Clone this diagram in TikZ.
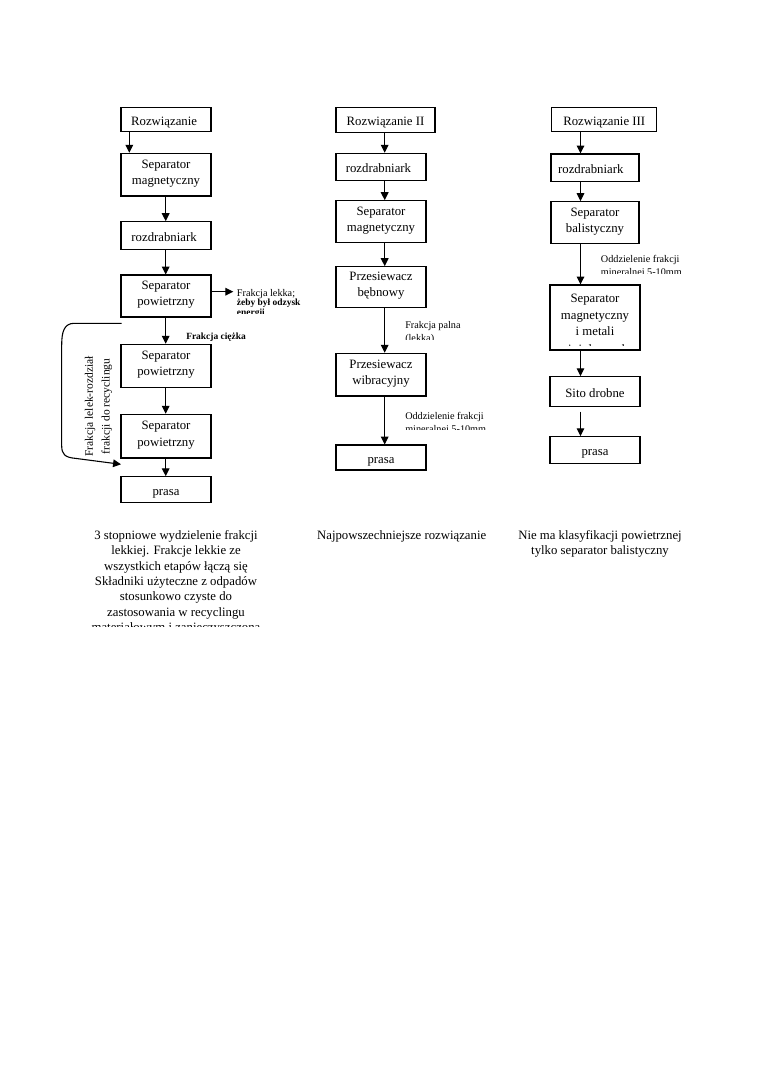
\documentclass[tikz,border=0pt]{standalone}
\usepackage{fontspec}
\setmainfont{Liberation Serif}
\usetikzlibrary{arrows.meta}
\begin{document}
\begin{tikzpicture}[x=0.7833pt,y=-0.7833pt,
  box/.style n args={2}{draw, line width=0.85pt, inner sep=0pt,
    minimum width=#1*0.7833pt, minimum height=#2*0.7833pt,
    align=center, font=\fontsize{10}{12.8}\selectfont,
    execute at begin node={\rule{0pt}{13.2pt}},
    execute at end node={\rule[-3.9pt]{0pt}{0pt}}},
  arr/.style={line width=0.85pt, -{Triangle[width=6pt,length=6.2pt]}},
  lab/.style={anchor=base west, inner sep=0pt, font=\fontsize{8}{9}\selectfont},
  labb/.style={anchor=base west, inner sep=0pt, font=\fontsize{7.4}{9}\selectfont\bfseries},
  notetext/.style={anchor=north, inner sep=0pt, align=center, font=\fontsize{10}{12}\selectfont}]
\fill[white] (0,0) rectangle (760,1075);
\useasboundingbox (0,0) rectangle (760,1075);

% column axes
\coordinate (cxLa) at (129.3,0);
\coordinate (cxL) at (165.7,0);
\coordinate (cxM) at (384.7,0);
\coordinate (cxR) at (580.5,0);

% ---------- left column ----------
\node[box={90}{24.4}] (L1) at (166,119.5) {Rozwiązanie\kern3pt};
\node[box={90}{42.7}] (L2) at (166,174.65) {Separator\\magnetyczny};
\node[box={90}{27.6}] (L3) at (166,235.5) {rozdrabniark\kern3pt};
\node[box={90}{42}] (L4) at (166,296) {Separator\\powietrzny};
\node[box={90}{43}] (L5) at (166,365.8) {Separator\\powietrzny};
\node[box={90}{43.7}] (L6) at (166,436.15) {Separator\\powietrzny};
\node[box={90}{25.6}] (L7) at (166,489.5) {prasa};

\draw[arr] (L1.south -| cxLa) -- (L2.north -| cxLa);
\draw[arr] (L2.south -| cxL) -- (L3.north -| cxL);
\draw[arr] (L3.south -| cxL) -- (L4.north -| cxL);
\draw[arr] (L4.south -| cxL) -- (L5.north -| cxL);
\draw[arr] (L5.south -| cxL) -- (L6.north -| cxL);
\draw[arr] (L6.south -| cxL) -- (L7.north -| cxL);

\coordinate (lekTip) at (233.3,291.7);
\draw[arr] (L4.east |- lekTip) -- (lekTip);
\begin{scope}
  \clip (200,250) rectangle (330,313.5);
  \node[lab] (lek1) at (236.7,296) {Frakcja lekka;};
  \node[labb] (lek2) at (236.7,305.5) {żeby był odzysk};
  \node[labb] (lek3) at (236.7,315.5) {energii};
\end{scope}
\node[labb] (ciez) at (186,339.5) {Frakcja ciężka};

\coordinate (fbS) at (121.7,323.3);
\coordinate (fbE) at (121,464.3);
\draw[arr] (fbS) -- (74,323.3) .. controls (64,323.5) and (61.7,332) .. (61.7,345)
  -- (61.7,446) .. controls (61.7,454) and (65,457.5) .. (75,458.3) -- (fbE);
\node[rotate=90, inner sep=0pt, align=center, font=\fontsize{9}{13}\selectfont] (fbl)
  at (98.5,406.5) {Frakcja lelek-rozdział\\frakcji do recyclingu};

% ---------- middle column ----------
\node[box={99}{25}] (M1) at (385.5,119.8) {Rozwiązanie II};
\node[box={90}{27.4}] (M2) at (381,167) {rozdrabniark\kern4pt};
\node[box={90}{42}] (M3) at (381,221.7) {Separator\\magnetyczny};
\node[box={90}{40.6}] (M4) at (381,287) {Przesiewacz\\bębnowy};
\node[box={90}{42.7}] (M5) at (381,374.65) {Przesiewacz\\wibracyjny};
\node[box={90}{25}] (M6) at (381,457.5) {prasa};

\draw[arr] (M1.south -| cxM) -- (M2.north -| cxM);
\draw[arr] (M2.south -| cxM) -- (M3.north -| cxM);
\draw[arr] (M3.south -| cxM) -- (M4.north -| cxM);
\draw[arr] (M4.south -| cxM) -- (M5.north -| cxM);
\draw[arr] (M5.south -| cxM) -- (M6.north -| cxM);

\begin{scope}
  \clip (395,310) rectangle (520,339);
  \node[lab] (pal1) at (405,328.3) {Frakcja palna};
  \node[lab] (pal2) at (405,341) {(lekka)};
\end{scope}
\begin{scope}
  \clip (395,400) rectangle (520,429.5);
  \node[lab] (odm1) at (405,419.3) {Oddzielenie frakcji};
  \node[lab] (odm2) at (405,432) {mineralnej 5-10mm};
\end{scope}

% ---------- right column ----------
\node[box={105}{24.4}] (R1) at (604.2,119.5) {Rozwiązanie III};
\node[box={88}{27.7}] (R2) at (595,167.85) {rozdrabniark\kern6.6pt};
\node[box={88}{41.6}] (R3) at (595,222.5) {Separator\\balistyczny};
\node[box={90}{65}] (R4) at (595,317.5) {Separator\\magnetyczny\\i metali};
\node[box={90}{30}] (R5) at (595,391.7) {Sito drobne};
\node[box={90}{26.6}] (R6) at (595,450) {prasa};

\draw[arr] (R1.south -| cxR) -- (R2.north -| cxR);
\draw[arr] (R2.south -| cxR) -- (R3.north -| cxR);
\draw[arr] (R3.south -| cxR) -- (R4.north -| cxR);
\draw[arr] (R4.south -| cxR) -- (R5.north -| cxR);
\coordinate (r56) at (580.5,411.7);
\draw[arr] (r56) -- (R6.north -| cxR);

\begin{scope}
  \clip (590,240) rectangle (720,273.5);
  \node[lab] (odr1) at (600.7,262.7) {Oddzielenie frakcji};
  \node[lab] (odr2) at (600.7,275.4) {mineralnej 5-10mm};
\end{scope}
\begin{scope}
  \clip (552,336) rectangle (638,345);
  \node[anchor=base, inner sep=0pt, font=\fontsize{10}{12.8}\selectfont] (R4b)
    at (595,353.3) {nieżelaznych};
\end{scope}

% ---------- bottom notes ----------
\begin{scope}
  \clip (60,520) rectangle (300,626.5);
  \node[notetext] (n1) at (176,530.3) {3 stopniowe wydzielenie frakcji\\lekkiej. Frakcje lekkie ze\\wszystkich etapów łączą się\\Składniki użyteczne z odpadów\\stosunkowo czyste do\\zastosowania w recyclingu\\materiałowym i zanieczyszczona};
\end{scope}
\node[notetext] (n2) at (401.7,530.3) {Najpowszechniejsze rozwiązanie};
\node[notetext] (n3) at (600,530.3) {Nie ma klasyfikacji powietrznej\\tylko separator balistyczny};
\end{tikzpicture}
\end{document}
